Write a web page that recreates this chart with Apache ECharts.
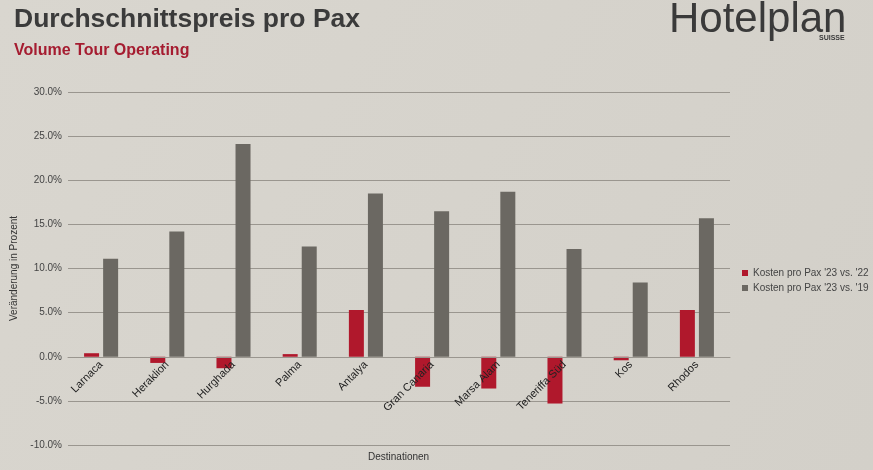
<!DOCTYPE html>
<html><head><meta charset="utf-8">
<script src="https://cdn.jsdelivr.net/npm/echarts@6/dist/echarts.min.js"></script>
<style>html,body{margin:0;padding:0;background:#d6d3cc;}#c{width:873px;height:470px;}</style>
</head><body><div id="c"></div>
<script>
const categories = ['Larnaca','Heraklion','Hurghada','Palma','Antalya','Gran Canaria','Marsa Alam','Teneriffa Süd','Kos','Rhodos'];
const vs22 = [0.4,-0.7,-1.3,0.3,5.3,-3.4,-3.6,-5.3,-0.4,5.3];
const vs19 = [11.1,14.2,24.1,12.5,18.5,16.5,18.7,12.2,8.4,15.7];
const seriesNames = ["Kosten pro Pax '23 vs. '22","Kosten pro Pax '23 vs. '19"];

const chart = echarts.init(document.getElementById('c'));
chart.setOption({
  backgroundColor: {type:'linear',x:0,y:0,x2:1,y2:1,colorStops:[{offset:0,color:'#d9d6cf'},{offset:1,color:'#d3d0c9'}]},
  animation:false,
  textStyle:{fontFamily:'Liberation Sans, Arial, sans-serif'},
  grid:{left:68,right:143,top:92,bottom:25,containLabel:false,outerBoundsMode:'none'},
  legend:{
    orient:'vertical', left:742, top:268, padding:0, itemWidth:6, itemHeight:6, itemGap:5,
    icon:'rect', textStyle:{fontSize:10,color:'#444'},
    data:seriesNames
  },
  xAxis:{
    type:'category', data:categories, position:'bottom', offset:-88, z:10,
    axisLine:{show:true,onZero:false,lineStyle:{color:'#9a968f',width:1}},
    axisTick:{show:false},
    axisLabel:{rotate:45,fontSize:11,color:'#222',margin:6,interval:0}
  },
  yAxis:{
    type:'value', min:-10, max:30, interval:5,
    name:'Veränderung in Prozent', nameLocation:'middle', nameGap:40,
    nameTextStyle:{fontSize:10,color:'#333'},
    axisLine:{show:false}, axisTick:{show:false},
    axisLabel:{fontSize:10,color:'#444',margin:6,formatter:v=>v.toFixed(1)+'%'},
    splitLine:{lineStyle:{color:'#9a968f',width:1}}
  },
  series:[
    {name:seriesNames[0],type:'bar',data:vs22,barWidth:15,barGap:'27%',itemStyle:{color:'#b0182c'}},
    {name:seriesNames[1],type:'bar',data:vs19,barWidth:15,itemStyle:{color:'#6b6862'}}
  ],
  graphic:[
    {type:'text',left:14,top:6,style:{text:'Durchschnittspreis pro Pax',fontSize:26.5,fontWeight:'bold',fill:'#3b3b3b',fontFamily:'Liberation Sans, Arial, sans-serif'}},
    {type:'text',left:14,top:43,style:{text:'Volume Tour Operating',fontSize:16,fontWeight:'bold',fill:'#a51c30',fontFamily:'Liberation Sans, Arial, sans-serif'}},
    {type:'text',left:669,top:-1,style:{text:'Hotelplan',fontSize:42,fill:'#3a3a3a',fontFamily:'Liberation Sans, Arial, sans-serif'}},
    {type:'text',left:819,top:35,style:{text:'SUISSE',fontSize:7,fontWeight:'bold',fill:'#3a3a3a',fontFamily:'Liberation Sans, Arial, sans-serif'}},
    {type:'text',left:368,top:452,style:{text:'Destinationen',fontSize:10,fill:'#333',fontFamily:'Liberation Sans, Arial, sans-serif'}}
  ]
});
</script></body></html>
